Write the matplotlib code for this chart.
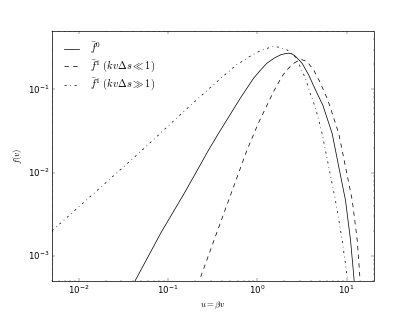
import matplotlib
matplotlib.use("Agg")
import matplotlib.pyplot as plt

plt.style.use("classic")
plt.rcParams["mathtext.fontset"] = "cm"

# f0 (solid)
u_f0 = [0.040, 0.0431, 0.0844, 0.15, 0.20, 0.284, 0.36, 0.45, 0.644, 0.908, 1.10, 1.28, 1.55, 1.81,
        2.05, 2.24, 2.45, 2.67, 3.17, 3.76, 4.48, 5.43, 6.89, 8.17, 9.71, 11.06, 12.05, 12.3]
f0 = [4.37e-4, 5.08e-4, 1.94e-3, 5.5e-3, 9.5e-3, 0.0186, 0.0285, 0.042, 0.0783, 0.136, 0.173, 0.206, 0.238, 0.259,
      0.269, 0.272, 0.266, 0.250, 0.206, 0.149, 0.0985, 0.064, 0.0294, 0.0117, 4.65e-3, 1.54e-3, 5.57e-4, 4.0e-4]

# f1, kv ds << 1 (dashed)
u_f1s = [0.215, 0.225, 0.40, 0.766, 1.03, 1.28, 1.52, 1.89, 2.10, 2.34, 2.60, 2.90, 3.17, 3.60,
         4.28, 5.09, 6.2, 8.17, 9.71, 11.56, 13.15, 14.07, 14.3]
f1s = [4.45e-4, 5.08e-4, 2.77e-3, 0.0186, 0.0395, 0.064, 0.0942, 0.143, 0.167, 0.188, 0.208, 0.222, 0.227, 0.216,
       0.171, 0.119, 0.073, 0.0294, 0.0117, 4.65e-3, 1.54e-3, 5.57e-4, 4.2e-4]

# f1, kv ds >> 1 (dash-dot)
u_f1l = [0.005, 0.0486, 0.0658, 0.149, 0.30, 0.45, 0.59, 0.673, 0.82, 0.99, 1.2, 1.52, 1.8, 2.15, 2.6, 2.9, 3.2,
         3.5, 3.93, 4.48, 5.32, 6.31, 7.50, 8.92, 10.15, 10.35]
f1l = [1.99e-3, 0.0176, 0.0238, 0.0539, 0.106, 0.155, 0.199, 0.216, 0.248, 0.278, 0.305, 0.327, 0.320, 0.298, 0.255, 0.205, 0.165,
       0.13, 0.088, 0.060, 0.0294, 0.0117, 4.65e-3, 1.54e-3, 5.57e-4, 4.3e-4]

labels = [r"$\bar{f}^0$", r"$\bar{f}^1\ (kv\Delta s \ll 1)$", r"$\bar{f}^1\ (kv\Delta s \gg 1)$"]

fig = plt.figure(figsize=(415 / 52, 312 / 52), dpi=52)
ax = fig.add_subplot(111)
ax.loglog(u_f0, f0, "k-", label=labels[0])
ax.loglog(u_f1s, f1s, "k--", label=labels[1])
ax.loglog(u_f1l, f1l, "k-.", label=labels[2])
ax.set_xlim(0.005, 20)
ax.set_ylim(5e-4, 0.5)
ax.set_xlabel(r"$u = \beta v$")
ax.set_ylabel(r"$f(v)$")
ax.legend(loc="upper left", frameon=False, labelspacing=0.25)
fig.savefig("out.png", dpi=52)
